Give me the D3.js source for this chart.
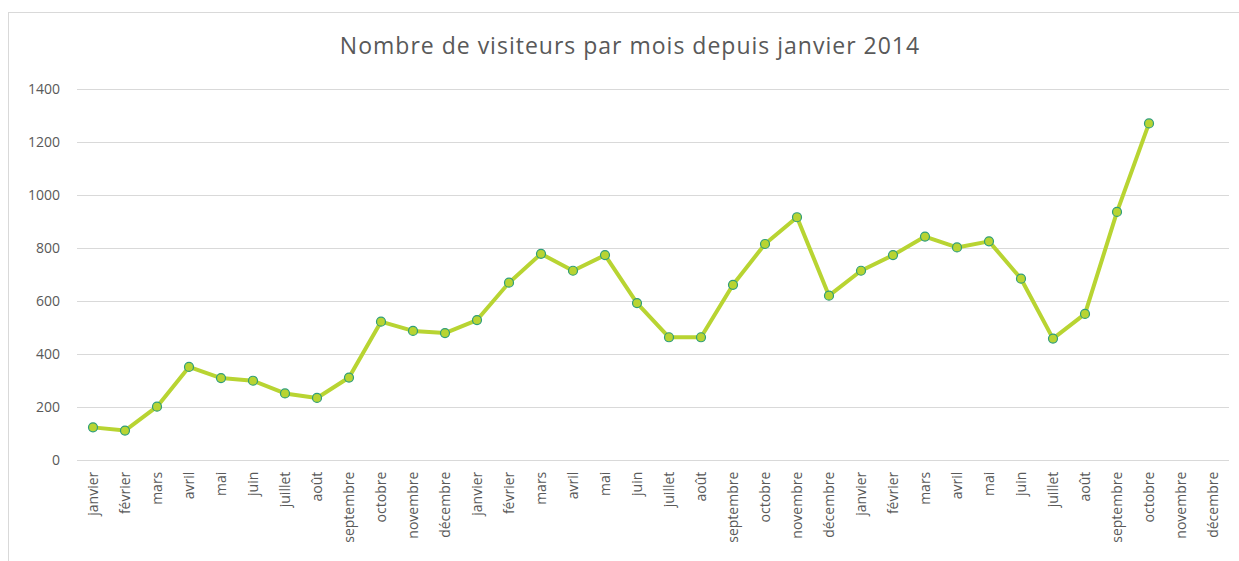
<!DOCTYPE html>
<html>
<head>
<meta charset="utf-8">
<script src="https://cdn.jsdelivr.net/npm/d3@7"></script>
<style>
  html, body { margin: 0; padding: 0; background: #fff; }
  svg { display: block; }
</style>
</head>
<body>
<svg id="chart" width="1239" height="561"></svg>
<script>
const title = "Nombre de visiteurs par mois depuis janvier 2014";
const months = ["janvier","février","mars","avril","mai","juin","juillet","août","septembre","octobre","novembre","décembre"];
const years = [2014, 2015, 2016];
const visitors2014 = [122, 110, 200, 350, 308, 298, 250, 233, 310, 521, 486, 478];
const visitors2015 = [527, 668, 777, 713, 772, 591, 462, 462, 660, 814, 915, 619];
const visitors2016 = [713, 772, 842, 801, 824, 683, 457, 550, 935, 1269, null, null];
const yTicks = [0, 200, 400, 600, 800, 1000, 1200, 1400];

const categories = [];
years.forEach(y => months.forEach(m => categories.push({key: y + "-" + m, label: m})));
const values = [...visitors2014, ...visitors2015, ...visitors2016];
const data = categories.map((c, i) => ({key: c.key, label: c.label, value: values[i]}));

const svg = d3.select("#chart");
const textColor = "#595959";
const font = "'Open Sans', sans-serif";

// outer border
svg.append("rect").attr("x", 8.5).attr("y", 12.5).attr("width", 1240).attr("height", 560)
  .attr("fill", "none").attr("stroke", "#d9d9d9");

const x = d3.scaleBand().domain(data.map(d => d.key)).range([77, 1229]).padding(0);
const y = d3.scaleLinear().domain([0, 1400]).range([459.7, 88.7]);

// gridlines
svg.append("g").selectAll("line").data(yTicks).join("line")
  .attr("x1", 77).attr("x2", 1229)
  .attr("y1", d => Math.round(y(d)) + 0.5).attr("y2", d => Math.round(y(d)) + 0.5)
  .attr("stroke", "#d9d9d9").attr("stroke-width", 1);

// y axis labels
const yAxis = d3.axisLeft(y).tickValues(yTicks).tickFormat(d3.format("d")).tickSize(0).tickPadding(0);
const gy = svg.append("g").attr("transform", "translate(60,0)").call(yAxis);
gy.select(".domain").remove();
gy.selectAll("text").attr("fill", textColor).style("font-family", font).style("font-size", "14px");

// x axis labels
const xAxis = d3.axisBottom(x).tickSize(0).tickPadding(0).tickFormat((k, i) => data[i].label);
const gx = svg.append("g").attr("transform", "translate(0,459.7)").call(xAxis);
gx.select(".domain").remove();
gx.selectAll("text")
  .attr("fill", textColor).style("font-family", font).style("font-size", "14px")
  .attr("transform", "rotate(-90)")
  .attr("text-anchor", "end")
  .attr("x", -12).attr("y", 0).attr("dy", "0.35em");

// line
const line = d3.line()
  .defined(d => d.value != null)
  .x(d => x(d.key) + x.bandwidth() / 2)
  .y(d => y(d.value));
svg.append("path").datum(data).attr("d", line)
  .attr("fill", "none").attr("stroke", "#b8d432").attr("stroke-width", 4)
  .attr("stroke-linejoin", "round").attr("stroke-linecap", "round");

// markers
svg.append("g").selectAll("circle").data(data.filter(d => d.value != null)).join("circle")
  .attr("cx", d => x(d.key) + x.bandwidth() / 2)
  .attr("cy", d => y(d.value))
  .attr("r", 4.5)
  .attr("fill", "#b8d432").attr("stroke", "#2f9e79").attr("stroke-width", 1.2);

// title
svg.append("text").attr("x", 630).attr("y", 54).attr("text-anchor", "middle")
  .attr("fill", textColor).style("font-family", font).style("font-size", "23px")
  .style("letter-spacing", "1px")
  .text(title);
</script>
</body>
</html>
